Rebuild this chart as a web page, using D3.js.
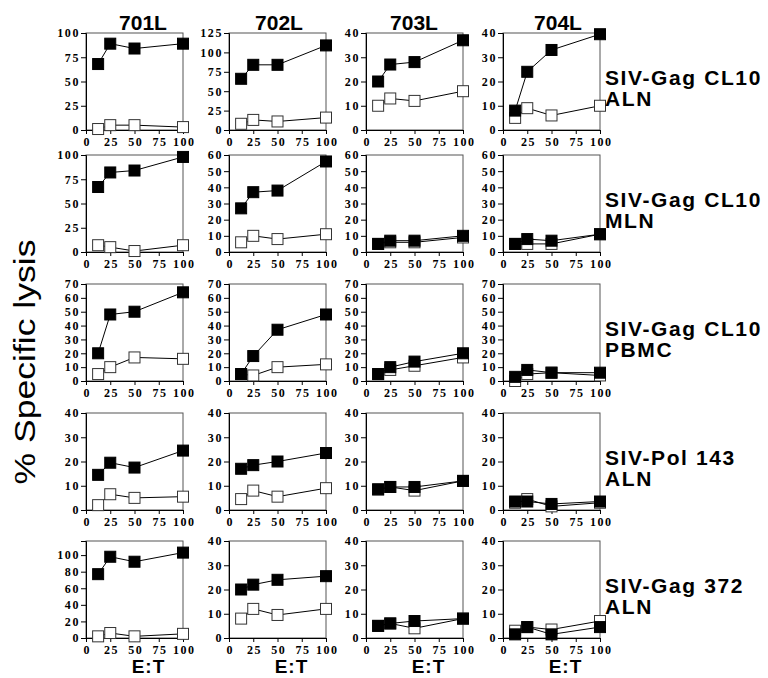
<!DOCTYPE html>
<meta charset="utf-8">
<style>
body {
  margin: 0;
  background: #fff;
}
.tick text {
  font-family: "Liberation Serif", "Times New Roman", serif;
  font-weight: bold;
  font-size: 12px;
  letter-spacing: 1.6px;
  fill: #000;
}
.frame {
  fill: none;
  stroke: #555;
  stroke-width: 1px;
}
.head, .rowlab, .et {
  font-family: "Liberation Sans", Arial, sans-serif;
  font-weight: bold;
  fill: #000;
}
</style>
<svg width="768" height="678"></svg>
<script src="https://d3js.org/d3.v7.min.js"></script>
<script>

// E:T ratios used in every panel
var etRatios = [12.5, 25, 50, 100];
var xTicks = [0, 25, 50, 75, 100];

var animals = ["701L", "702L", "703L", "704L"];
var rowNames = [["SIV-Gag CL10", "ALN"], ["SIV-Gag CL10", "MLN"], ["SIV-Gag CL10", "PBMC"],
                ["SIV-Pol 143", "ALN"], ["SIV-Gag 372", "ALN"]];

// y axis top value and tick step for each panel (row by row, 701L..704L)
var yMax  = [[100, 125, 40, 40], [100, 60, 60, 60], [70, 70, 70, 70], [40, 40, 40, 40], [117, 40, 40, 40]];
var yStep = [[25, 25, 10, 10], [25, 10, 10, 10], [10, 10, 10, 10], [10, 10, 10, 10], [20, 10, 10, 10]];
var yTop  = [[100, 125, 40, 40], [100, 60, 60, 60], [70, 70, 70, 70], [40, 40, 40, 40], [100, 40, 40, 40]];

// filled squares = peptide pulsed targets, open squares = control targets
var gagAlnFilled = [[68, 89, 84, 89], [66, 84, 84, 109], [20, 27, 28, 37], [8, 24, 33, 39.5]];
var gagAlnOpen   = [[1, 5, 5, 3], [8, 13, 11, 16], [10, 13, 12, 16], [5, 9, 6, 10]];

var gagMlnFilled = [[67, 82, 84, 98], [27, 37, 38, 56], [5, 7, 7, 10], [5, 8, 7, 11]];
var gagMlnOpen   = [[7, 5, 1, 7], [6, 10, 8, 11], [5, 6, 6, 9], [5, 5, 5, 11]];

var gagPbmcFilled = [[20, 48, 50, 64], [5, 18, 37, 48], [5, 10, 14, 20], [3, 8, 6, 6]];
var gagPbmcOpen   = [[5, 10, 17, 16], [5, 4, 10, 12], [5, 8, 11, 17], [0, 5, 6, 4]];

var polAlnFilled = [[14.5, 19.5, 17.5, 24.5], [17, 18.5, 20, 23.5], [8.5, 9.5, 9.5, 12], [3.5, 3.5, 2.5, 3.5]];
var polAlnOpen   = [[2, 6.5, 5, 5.5], [4.5, 8, 5.5, 9], [8.5, 9.5, 8, 12], [3, 4.5, 1.5, 3]];

var gag372Filled = [[77, 98, 92, 103], [20, 22, 24, 25.5], [5, 6, 7, 8], [1.5, 4.5, 1.5, 4.5]];
var gag372Open   = [[2, 6, 2, 5], [8, 12, 9.5, 12], [5, 6, 4, 8], [3, 4.5, 3.5, 7]];

var filledRows = [gagAlnFilled, gagMlnFilled, gagPbmcFilled, polAlnFilled, gag372Filled];
var openRows   = [gagAlnOpen, gagMlnOpen, gagPbmcOpen, polAlnOpen, gag372Open];

// layout
var colX = [86, 229, 366, 503],
    rowY = [33, 155, 284, 413, 541],
    W = 97, H = 97, ms = 11;

var svg = d3.select("svg");

var x = d3.scaleLinear().domain([0, 100]).range([0, W]);
var line = d3.line().x(function(d) { return x(d[0]); });

rowNames.forEach(function(name, r) {
  animals.forEach(function(a, c) {
    var y = d3.scaleLinear().domain([0, yMax[r][c]]).range([H, 0]);
    var g = svg.append("g").attr("transform", "translate(" + colX[c] + "," + rowY[r] + ")");

    g.append("rect").attr("class", "frame").attr("width", W).attr("height", H);

    g.append("g")
        .call(d3.axisLeft(y).tickValues(d3.range(0, yTop[r][c] + 1, yStep[r][c])).tickSize(5).tickPadding(1))
        .call(function(s) { s.select(".domain").attr("stroke", "#000"); });

    g.append("g").attr("transform", "translate(0," + H + ")")
        .call(d3.axisBottom(x).tickValues(xTicks).tickSize(4).tickPadding(3))
        .call(function(s) { s.select(".domain").attr("stroke", "#000"); })
        .selectAll("text").attr("dx", "0.8px");

    [[openRows[r][c], "#fff"], [filledRows[r][c], "#000"]].forEach(function(s) {
      var pts = etRatios.map(function(e, i) { return [e, s[0][i]]; });
      line.y(function(d) { return y(d[1]); });
      g.append("path").datum(pts)
          .attr("fill", "none").attr("stroke", "#000").attr("stroke-width", 1)
          .attr("d", line);
      g.selectAll(null).data(pts).enter().append("rect")
          .attr("x", function(d) { return x(d[0]) - ms / 2; })
          .attr("y", function(d) { return y(d[1]) - ms / 2; })
          .attr("width", ms).attr("height", ms)
          .attr("fill", s[1])
          .attr("stroke", s[1] == "#fff" ? "#333" : "#000")
          .attr("stroke-width", 1);
    });
  });

  var t = svg.append("text").attr("class", "rowlab")
      .attr("x", 605).attr("y", rowY[r] + 52)
      .style("font-size", "21px").style("letter-spacing", "1.6px");
  t.append("tspan").text(name[0]);
  t.append("tspan").attr("x", 605).attr("dy", 21).text(name[1]);
});

// column headers
var headX = [143, 279, 414, 558];
animals.forEach(function(a, c) {
  svg.append("text").attr("class", "head")
      .attr("x", headX[c]).attr("y", 30)
      .attr("text-anchor", "middle")
      .style("font-size", "21px")
      .text(a);
  svg.append("text").attr("class", "et")
      .attr("x", colX[c] + W / 2 + 14).attr("y", 673)
      .attr("text-anchor", "middle")
      .style("font-size", "19px").style("letter-spacing", "1px")
      .text("E:T");
});

svg.append("text")
    .attr("transform", "translate(35,362) rotate(-90)")
    .attr("text-anchor", "middle")
    .attr("textLength", 245).attr("lengthAdjust", "spacingAndGlyphs")
    .style("font-family", "'Liberation Sans', Arial, sans-serif")
    .style("font-size", "30px")
    .text("% Specific lysis");

</script>
